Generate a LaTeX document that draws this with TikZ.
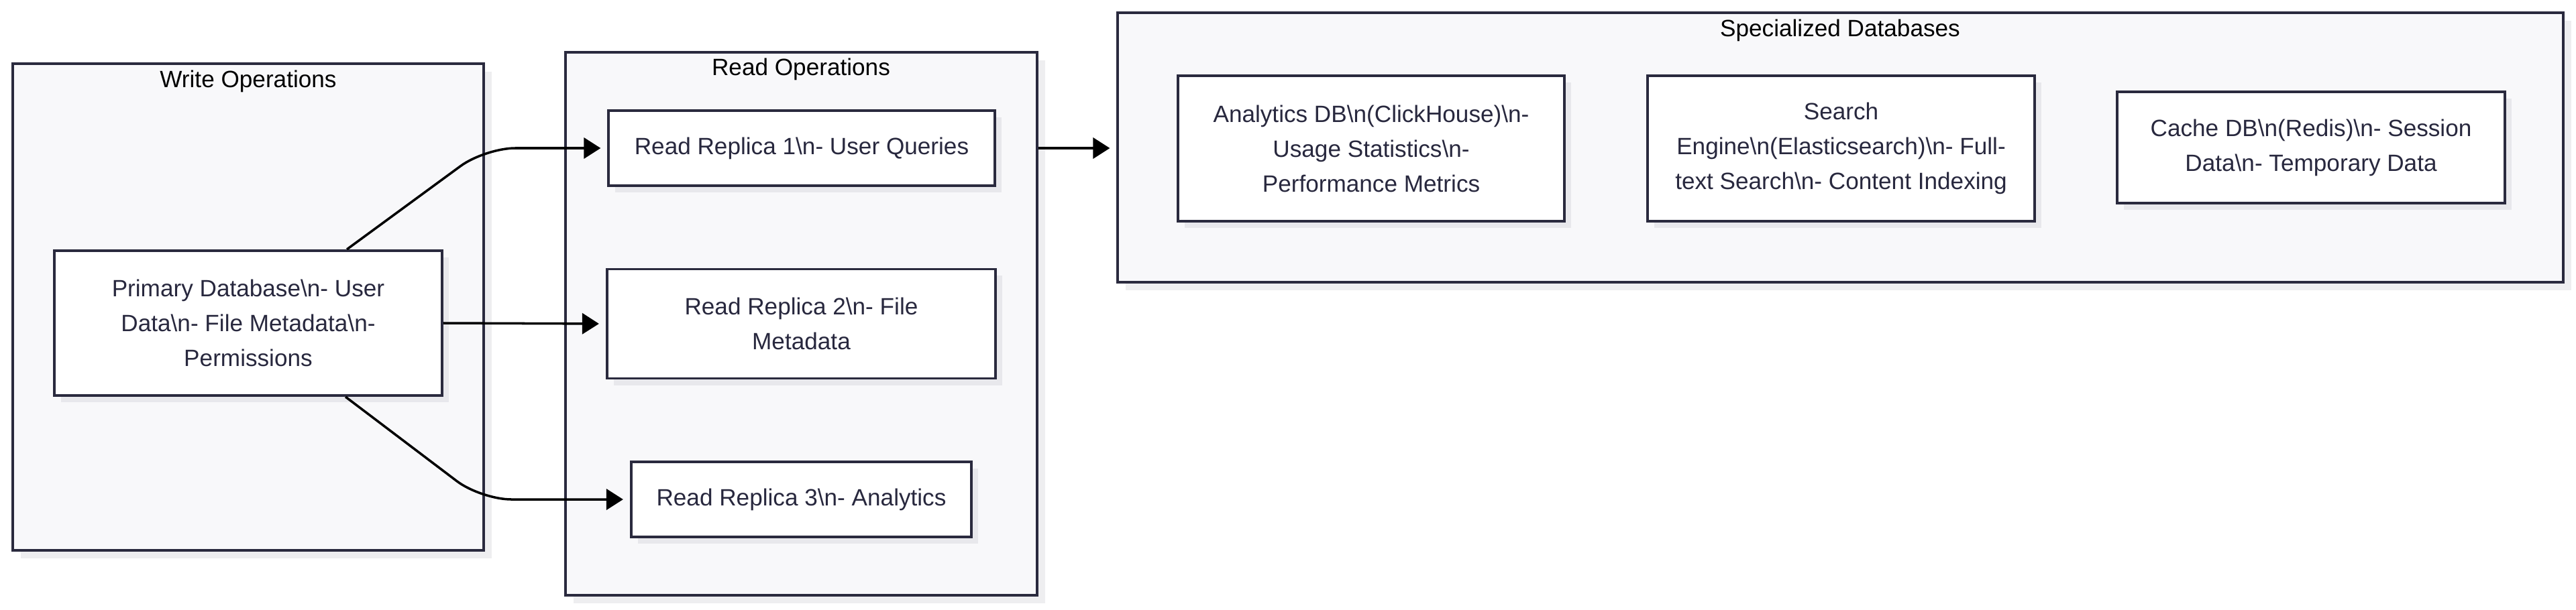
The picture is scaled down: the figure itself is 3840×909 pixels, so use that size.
\documentclass[tikz,border=0pt]{standalone}
\usepackage{fontspec}
\setmainfont{Liberation Sans}
\usetikzlibrary{arrows.meta,shadows,positioning}
\definecolor{boxline}{RGB}{42,42,62}
\definecolor{nodeink}{RGB}{40,40,62}
\definecolor{clusterfill}{RGB}{248,248,250}
\definecolor{clustershade}{RGB}{238,238,240}
\definecolor{boxshade}{RGB}{232,232,236}
\newcommand{\bsn}{\textbackslash n}
\tikzset{
  cluster/.style={draw=boxline, line width=1.1pt, fill=clusterfill, inner sep=0pt,
    general shadow={fill=clustershade, shadow xshift=0.12cm, shadow yshift=-0.12cm}},
  dbbox/.style={draw=boxline, line width=1.1pt, fill=white, text=nodeink, align=center,
    inner sep=0pt, font=\fontsize{10}{14.8}\selectfont,
    general shadow={fill=boxshade, shadow xshift=0.1cm, shadow yshift=-0.1cm}},
  title/.style={font=\fontsize{10}{12}\selectfont, text=black, inner sep=0pt},
  flow/.style={-{Triangle[length=0.25cm,width=0.31cm]}, line width=1pt, shorten >=0.1cm}
}
\begin{document}
\begin{tikzpicture}[x=0.01cm, y=-0.01cm]
  \useasboundingbox (0,0) rectangle (3840,909);
  % clusters
  \node[cluster, minimum width=7.02cm, minimum height=7.26cm] (write) at (370,458) {};
  \node[cluster, minimum width=7.03cm, minimum height=8.10cm] (read) at (1194.5,483) {};
  \node[cluster, minimum width=21.53cm, minimum height=4.02cm] (spec) at (2743.5,220) {};
  \node[title] (writetitle) at (370,121) {Write Operations};
  \node[title] (readtitle) at (1194,103) {Read Operations};
  \node[title] (spectitle) at (2743,45) {Specialized Databases};
  % databases
  \node[dbbox, minimum width=5.78cm, minimum height=2.16cm] (primary) at (370,482)
    {Primary Database\bsn- User\\Data\bsn- File Metadata\bsn-\\Permissions};
  \node[dbbox, minimum width=5.75cm, minimum height=1.12cm] (rep1) at (1195,221)
    {Read Replica 1\bsn- User Queries};
  \node[dbbox, minimum width=5.79cm, minimum height=1.63cm] (rep2) at (1194.5,483)
    {Read Replica 2\bsn- File\\Metadata};
  \node[dbbox, minimum width=5.07cm, minimum height=1.12cm] (rep3) at (1194.5,745)
    {Read Replica 3\bsn- Analytics};
  \node[dbbox, minimum width=5.76cm, minimum height=2.17cm] (analytics) at (2044,221.5)
    {Analytics DB\bsn(ClickHouse)\bsn-\\Usage Statistics\bsn-\\Performance Metrics};
  \node[dbbox, minimum width=5.77cm, minimum height=2.17cm] (search) at (2744.5,221.5)
    {Search\\Engine\bsn(Elasticsearch)\bsn- Full-\\text Search\bsn- Content Indexing};
  \node[dbbox, minimum width=5.78cm, minimum height=1.66cm] (cache) at (3445,220)
    {Cache DB\bsn(Redis)\bsn- Session\\Data\bsn- Temporary Data};
  % connectors
  \begin{scope}[flow]
    \draw[rounded corners=0.45cm] ([xshift=1.47cm]primary.north) -- (723,221) -- (rep1.west);
    \draw (primary.east) -- (rep2.west);
    \draw[rounded corners=0.45cm] ([xshift=1.45cm]primary.south) -- (717,745) -- (rep3.west);
    \draw (read.east |- rep1.east) -- (spec.west |- rep1.east);
  \end{scope}
\end{tikzpicture}
\end{document}
